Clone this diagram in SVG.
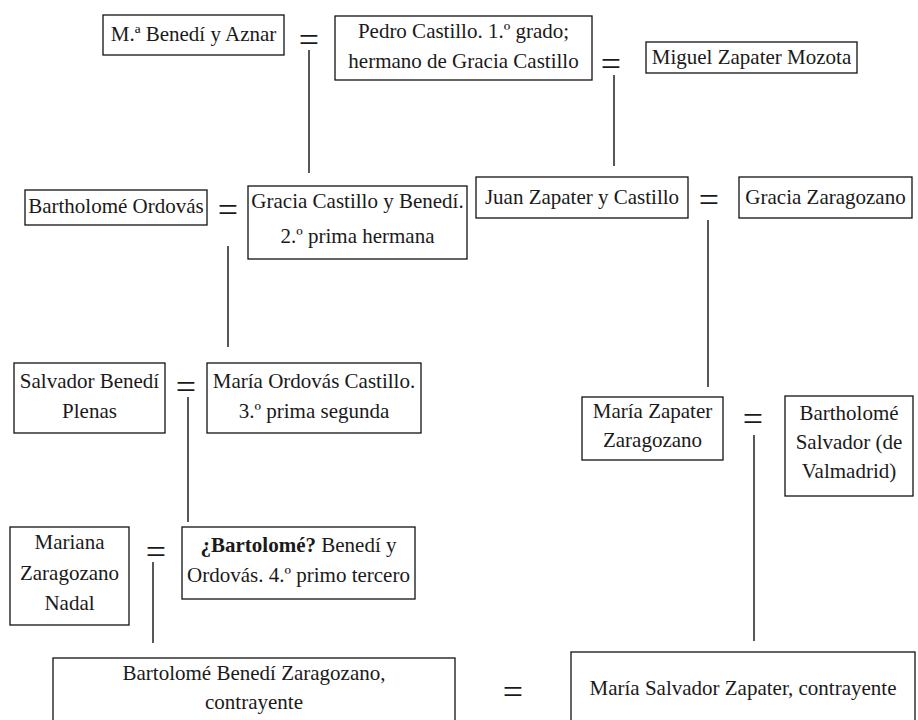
<svg xmlns="http://www.w3.org/2000/svg" width="918" height="720" viewBox="0 0 918 720">
  <style>
    .box { fill: #fff; stroke: #111; stroke-width: 1.3; }
    .t { font-family: "Liberation Serif", "DejaVu Serif", serif; font-size: 21px; fill: #1a1a1a; text-anchor: middle; }
    .eq { font-family: "Liberation Serif", "DejaVu Serif", serif; font-size: 36px; fill: #1a1a1a; text-anchor: middle; }
    .link { stroke: #111; stroke-width: 1.4; fill: none; }
  </style>
  <rect width="918" height="720" fill="#fff"/>

  <!-- descent lines -->
  <g id="connectors">
    <line class="link" x1="309" y1="50" x2="309" y2="173"/>
    <line class="link" x1="614" y1="75" x2="614" y2="166"/>
    <line class="link" x1="228" y1="246" x2="228" y2="347"/>
    <line class="link" x1="708" y1="220" x2="708" y2="387"/>
    <line class="link" x1="188" y1="397" x2="188" y2="522"/>
    <line class="link" x1="754" y1="435" x2="754" y2="641"/>
    <line class="link" x1="153" y1="562" x2="153" y2="643"/>
  </g>

  <!-- marriage signs -->
  <g id="marriages">
    <text class="eq" x="309" y="52">=</text>
    <text class="eq" x="611" y="76">=</text>
    <text class="eq" x="228" y="222">=</text>
    <text class="eq" x="709" y="212">=</text>
    <text class="eq" x="186" y="399">=</text>
    <text class="eq" x="753" y="431">=</text>
    <text class="eq" x="156" y="564">=</text>
    <text class="eq" x="513" y="704">=</text>
  </g>

  <g id="n-maria-benedi">
    <rect class="box" x="103" y="15" width="181" height="40"/>
    <text class="t" x="193.5" y="41">M.ª Benedí y Aznar</text>
  </g>

  <g id="n-pedro-castillo">
    <rect class="box" x="335" y="16" width="257" height="64"/>
    <text class="t" x="463.5" y="38">Pedro Castillo. 1.º grado;</text>
    <text class="t" x="463.5" y="68">hermano de Gracia Castillo</text>
  </g>

  <g id="n-miguel-zapater">
    <rect class="box" x="646" y="42" width="211" height="31"/>
    <text class="t" x="751.5" y="64">Miguel Zapater Mozota</text>
  </g>

  <g id="n-bartholome-ordovas">
    <rect class="box" x="25" y="190" width="182" height="35"/>
    <text class="t" x="116" y="213">Bartholomé Ordovás</text>
  </g>

  <g id="n-gracia-castillo">
    <rect class="box" x="248" y="186" width="219" height="73"/>
    <text class="t" x="357.5" y="208">Gracia Castillo y Benedí.</text>
    <text class="t" x="357.5" y="243">2.º prima hermana</text>
  </g>

  <g id="n-juan-zapater">
    <rect class="box" x="476" y="177" width="212" height="41"/>
    <text class="t" x="582" y="204">Juan Zapater y Castillo</text>
  </g>

  <g id="n-gracia-zaragozano">
    <rect class="box" x="739" y="177" width="173" height="41"/>
    <text class="t" x="825.5" y="204">Gracia Zaragozano</text>
  </g>

  <g id="n-salvador-benedi">
    <rect class="box" x="14" y="363" width="151" height="70"/>
    <text class="t" x="89.5" y="388">Salvador Benedí</text>
    <text class="t" x="89.5" y="418">Plenas</text>
  </g>

  <g id="n-maria-ordovas">
    <rect class="box" x="207" y="363" width="214" height="70"/>
    <text class="t" x="314" y="388">María Ordovás Castillo.</text>
    <text class="t" x="314" y="418">3.º prima segunda</text>
  </g>

  <g id="n-maria-zapater">
    <rect class="box" x="582" y="397" width="141" height="63"/>
    <text class="t" x="652.5" y="418">María Zapater</text>
    <text class="t" x="652.5" y="447">Zaragozano</text>
  </g>

  <g id="n-bartholome-salvador">
    <rect class="box" x="785" y="396" width="128" height="100"/>
    <text class="t" x="849" y="420">Bartholomé</text>
    <text class="t" x="849" y="449">Salvador (de</text>
    <text class="t" x="849" y="478">Valmadrid)</text>
  </g>

  <g id="n-mariana-zaragozano">
    <rect class="box" x="10" y="527" width="119" height="98"/>
    <text class="t" x="69.5" y="549">Mariana</text>
    <text class="t" x="69.5" y="580">Zaragozano</text>
    <text class="t" x="69.5" y="610">Nadal</text>
  </g>

  <g id="n-bartolome-benedi-ordovas">
    <rect class="box" x="182" y="527" width="233" height="72"/>
    <text class="t" x="298.5" y="552"><tspan font-weight="bold">¿Bartolomé?</tspan> Benedí y</text>
    <text class="t" x="298.5" y="582">Ordovás. 4.º primo tercero</text>
  </g>

  <g id="n-bartolome-benedi-zaragozano">
    <rect class="box" x="53" y="658" width="402" height="80"/>
    <text class="t" x="254" y="680">Bartolomé Benedí Zaragozano,</text>
    <text class="t" x="254" y="709">contrayente</text>
  </g>

  <g id="n-maria-salvador-zapater">
    <rect class="box" x="571" y="652" width="344" height="90"/>
    <text class="t" x="743" y="695">María Salvador Zapater, contrayente</text>
  </g>
</svg>
